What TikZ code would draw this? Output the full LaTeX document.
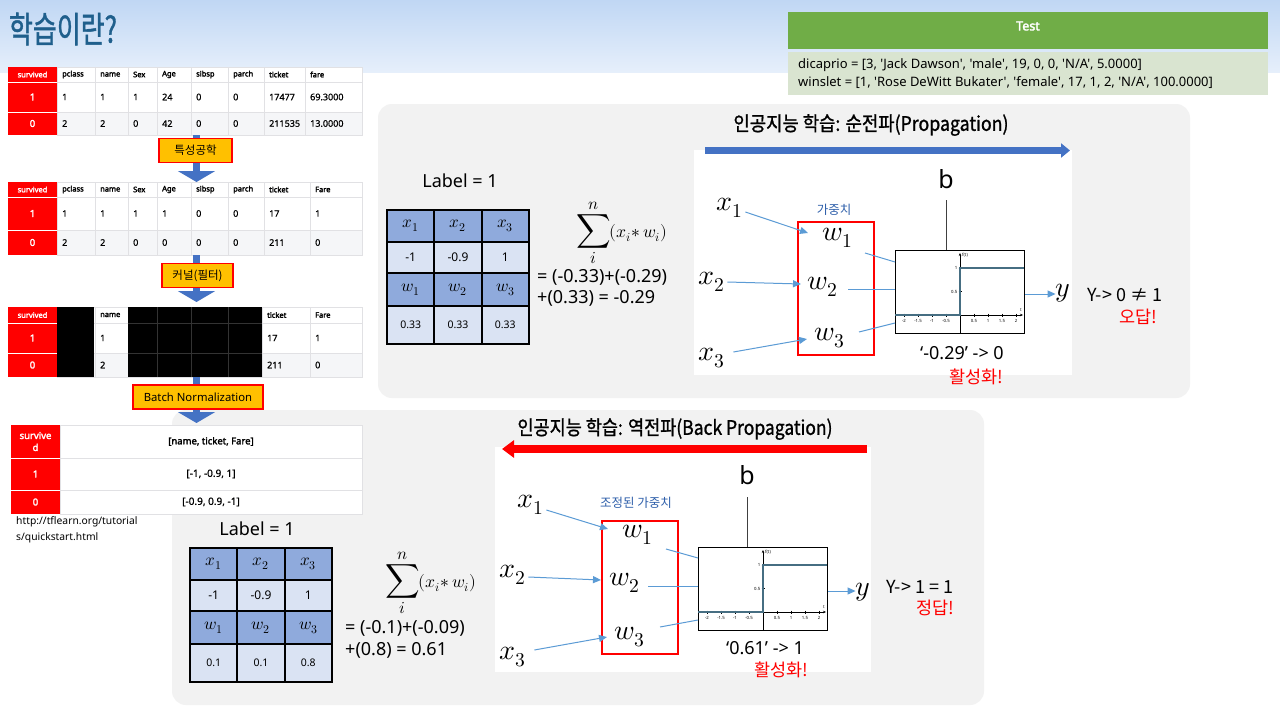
\documentclass[tikz,border=0pt]{standalone}
\usepackage{fontspec}
\usepackage{unicode-math}
\usepackage{graphicx}
\setmainfont{Noto Sans}[AutoFakeBold=2.5]
\setmathfont{Latin Modern Math}
\newfontfamily\kr{Noto Sans CJK KR}
\newfontfamily\krb{Noto Sans CJK KR}[FakeBold=1.2]
\newfontfamily\plainf{Noto Sans}
\newfontfamily\medf{Noto Sans}[FakeBold=0.7]
\usetikzlibrary{arrows.meta}
\definecolor{hdrblue}{RGB}{31,95,140}
\definecolor{redc}{RGB}{255,0,0}
\definecolor{ybox}{RGB}{255,192,0}
\definecolor{barblue}{RGB}{68,114,196}
\definecolor{panel}{RGB}{242,242,242}
\definecolor{cdark}{RGB}{143,170,220}
\definecolor{clight}{RGB}{218,227,243}
\definecolor{tgreen}{RGB}{112,173,71}
\definecolor{tbody}{RGB}{217,228,208}
\definecolor{arrblue}{RGB}{91,155,213}
\definecolor{wtxt}{RGB}{46,95,170}
\definecolor{stepc}{RGB}{70,110,130}
\definecolor{gridc}{RGB}{225,225,228}
\definecolor{rowg}{RGB}{245,246,248}
\definecolor{bgtop}{RGB}{192,215,244}
\definecolor{bgbot}{RGB}{230,239,251}
\tikzset{
  hd/.style={font=\fontsize{7.5}{9}\selectfont\bfseries, inner sep=0pt, anchor=west},
  hdw/.style={font=\fontsize{7.5}{9}\selectfont\bfseries, text=white, inner sep=0pt},
  cv/.style={font=\medf\fontsize{9}{10}\selectfont, inner sep=0pt, anchor=west},
  cvc/.style={font=\medf\fontsize{10}{11}\selectfont, inner sep=0pt},
  cvw/.style={font=\fontsize{9.5}{10}\selectfont\bfseries, text=white, inner sep=0pt},
  gl/.style={draw=gridc, line width=0.8pt},
  ybx/.style={draw=redc, fill=ybox, line width=1.2pt, inner sep=0pt, minimum height=24pt},
  darr/.style={line width=7pt, barblue, -{Triangle[width=37pt,length=11pt]}},
  mcell/.style={font=\fontsize{17}{18}\selectfont, inner sep=0pt},
  vcell/.style={font=\fontsize{12}{13}\selectfont, inner sep=0pt},
  wcell/.style={font=\fontsize{10.5}{12}\selectfont, inner sep=0pt},
  mth/.style={font=\fontsize{28}{30}\selectfont, inner sep=0pt},
  txt/.style={font=\fontsize{18}{20}\selectfont, inner sep=0pt},
  krt/.style={font=\kr\fontsize{17.5}{19}\selectfont, inner sep=0pt},
  redt/.style={krt, text=redc},
  wlab/.style={font=\kr\fontsize{12.5}{14}\selectfont, text=wtxt, inner sep=0pt},
  redbox/.style={draw=redc, line width=2pt, minimum width=76pt, minimum height=133pt, anchor=north west, inner sep=0pt},
  plotbox/.style={draw=black, line width=1pt, minimum width=129pt, minimum height=83pt, anchor=north west, inner sep=0pt, fill=white},
  inarr/.style={arrblue, line width=1pt, -{Triangle[length=8pt,width=7pt]}},
  wline/.style={arrblue, line width=1pt},
  bline/.style={black!75, line width=0.9pt},
  tck/.style={font=\plainf\fontsize{4.3}{5}\selectfont, inner sep=0pt},
  ttlk/.style={font=\krb\fontsize{20}{22}\selectfont, inner sep=0pt},
  sumn/.style={anchor=west, inner sep=0pt},
}
% weight table: #1 prefix, #2 x, #3 y, #4-#6 weights
\newcommand\wtab[6]{%
 \begin{scope}[shift={(#2,#3)}]
  \fill[cdark] (0,0) rectangle (142,32);
  \fill[clight] (0,32) rectangle (142,63);
  \fill[cdark] (0,63) rectangle (142,96);
  \fill[clight] (0,96) rectangle (142,134);
  \draw[line width=1.2pt] (0,0) rectangle (142,134);
  \foreach \yy in {32,63,96} \draw[line width=1.2pt] (0,\yy) -- (142,\yy);
  \foreach \xx in {47,95} \draw[line width=1.2pt] (\xx,0) -- (\xx,134);
  \foreach \c in {1,2,3} {
    \node[mcell] (#1x\c) at ({\c*47.33-23.67},16) {$x_{\c}$};
    \node[mcell] (#1w\c) at ({\c*47.33-23.67},79.5) {$w_{\c}$};
  }
  \node[vcell] (#1v1) at (23.67,47.5) {-1};
  \node[vcell] (#1v2) at (71,47.5) {-0.9};
  \node[vcell] (#1v3) at (118.33,47.5) {1};
  \node[wcell] (#1k1) at (23.67,115) {#4};
  \node[wcell] (#1k2) at (71,115) {#5};
  \node[wcell] (#1k3) at (118.33,115) {#6};
 \end{scope}}
% step plot: #1 name, #2 x, #3 y
\newcommand\stepplot[3]{%
 \node[plotbox] (#1) at (#2,#3) {};
 \begin{scope}[shift={(#2,#3)}]
  \draw[line width=0.4pt,-{Stealth[length=3pt,width=2.5pt]}] (1,65) -- (128,65);
  \draw[line width=0.4pt,-{Stealth[length=3pt,width=2.5pt]}] (65,83) -- (65,3);
  \foreach \k/\lab [count=\n] in {-2/-2,-1.5/-1.5,-1/-1,-0.5/-0.5,0.5/0.5,1/1,1.5/1.5,2/2} {
    \draw[line width=0.3pt] ({65+28*(\k)},63.5) -- ({65+28*(\k)},66.5);
    \node[tck] (#1t\n) at ({65+28*(\k)},71) {\lab};
  }
  \draw[line width=0.3pt] (63.5,18) -- (66.5,18);
  \draw[line width=0.3pt] (63.5,41.5) -- (66.5,41.5);
  \node[tck, anchor=east] (#1ya) at (62.5,18) {1};
  \node[tck, anchor=east] (#1yb) at (62.5,41.5) {0.5};
  \node[tck, anchor=west] (#1ft) at (67,5) {f(t)};
  \node[tck] (#1tt) at (126,60) {t};
  \draw[stepc, line width=1.4pt] (0,65) -- (65,65) -- (65,18) -- (129,18);
 \end{scope}}
\newcommand\sumexpr{{\fontsize{24}{24}\selectfont$\displaystyle\sum_{i}^{n}$}\kern-1pt{\fontsize{17.5}{18}\selectfont$(x_i{*}\,w_i)$}}
\begin{document}
\begin{tikzpicture}[x=1pt,y=-1pt]
\useasboundingbox (0,0) rectangle (1280,720);
\fill[white] (0,0) rectangle (1280,720);
\shade[top color=bgtop,bottom color=bgbot] (0,0) rectangle (1280,72);
\node[font=\krb\fontsize{36}{38}\selectfont, text=hdrblue, inner sep=0pt] (ttl) at (63,29) {\resizebox{108pt}{\height}{학습이란?}};

% grey panels
\fill[panel, rounded corners=14pt] (378,104) rectangle (1190,398);
\fill[panel, rounded corners=14pt] (172,410) rectangle (984,705);

% ---------- Table 1
\fill[white] (8,67) rectangle (362,112);
\fill[rowg] (8,112) rectangle (362,135);
\fill[redc] (8,67) rectangle (57,135);
\foreach \yy in {82,112} \draw[gl] (57,\yy) -- (362,\yy);
\foreach \yy in {82,112} \draw[white, line width=0.8pt] (8,\yy) -- (57,\yy);
\foreach \xx in {95,128,157,191,228,264,305} \draw[gl] (\xx,67) -- (\xx,135);
\draw[gl] (57,67) rectangle (362,135);
\node[hdw] (t1h0) at (32.5,74.5) {survived};
\foreach \xx/\s [count=\i] in {57/pclass,95/name,128/Sex,157/Age,191/sibsp,228/parch,264/ticket,305/fare}
  \node[hd] (t1h\i) at (\xx+5,74.5) {\s};
\node[cvw] (t1a0) at (32.5,97) {1};
\foreach \xx/\s [count=\i] in {57/1,95/1,128/1,157/24,191/0,228/0,264/17477,305/69.3000}
  \node[cv] (t1a\i) at (\xx+5,97) {\s};
\node[cvw] (t1b0) at (32.5,123.5) {0};
\foreach \xx/\s [count=\i] in {57/2,95/2,128/0,157/42,191/0,228/0,264/211535,305/13.0000}
  \node[cv] (t1b\i) at (\xx+5,123.5) {\s};

% ---------- Table 2
\fill[white] (8,182) rectangle (362,230);
\fill[rowg] (8,230) rectangle (362,255);
\fill[redc] (8,182) rectangle (57,255);
\foreach \yy in {197,230} \draw[gl] (57,\yy) -- (362,\yy);
\foreach \yy in {197,230} \draw[white, line width=0.8pt] (8,\yy) -- (57,\yy);
\foreach \xx in {95,128,157,191,228,264,310} \draw[gl] (\xx,182) -- (\xx,255);
\draw[gl] (57,182) rectangle (362,255);
\node[hdw] (t2h0) at (32.5,189.5) {survived};
\foreach \xx/\s [count=\i] in {57/pclass,95/name,128/Sex,157/Age,191/sibsp,228/parch,264/ticket,310/Fare}
  \node[hd] (t2h\i) at (\xx+5,189.5) {\s};
\node[cvw] (t2a0) at (32.5,213.5) {1};
\foreach \xx/\s [count=\i] in {57/1,95/1,128/1,157/1,191/0,228/0,264/17,310/1}
  \node[cv] (t2a\i) at (\xx+5,213.5) {\s};
\node[cvw] (t2b0) at (32.5,242.5) {0};
\foreach \xx/\s [count=\i] in {57/2,95/2,128/0,157/0,191/0,228/0,264/211,310/0}
  \node[cv] (t2b\i) at (\xx+5,242.5) {\s};

% ---------- Table 3
\fill[white] (8,307) rectangle (362,353);
\fill[rowg] (8,353) rectangle (362,377);
\fill[redc] (8,307) rectangle (57,377);
\foreach \yy in {323,353} \draw[gl] (57,\yy) -- (362,\yy);
\foreach \yy in {323,353} \draw[white, line width=0.8pt] (8,\yy) -- (57,\yy);
\foreach \xx in {95,128,262,310} \draw[gl] (\xx,307) -- (\xx,377);
\draw[gl] (57,307) rectangle (362,377);
\fill[black] (57,307) rectangle (94,377);
\fill[black] (128,307) rectangle (262,377);
\foreach \xx in {157,191,228} \draw[black!80, line width=0.6pt] (\xx,307) -- (\xx,377);
\foreach \yy in {323,353} \draw[black!80, line width=0.6pt] (128,\yy) -- (262,\yy);
\node[hdw] (t3h0) at (32.5,315) {survived};
\node[hd] (t3h1) at (100,315) {name};
\node[hd] (t3h2) at (267,315) {ticket};
\node[hd] (t3h3) at (315,315) {Fare};
\node[cvw] (t3a0) at (32.5,338) {1};
\node[cv] (t3a1) at (100,338) {1};
\node[cv] (t3a2) at (267,338) {17};
\node[cv] (t3a3) at (315,338) {1};
\node[cvw] (t3b0) at (32.5,365) {0};
\node[cv] (t3b1) at (100,365) {2};
\node[cv] (t3b2) at (267,365) {211};
\node[cv] (t3b3) at (315,365) {0};

% ---------- Table 4
\fill[white] (11,425) rectangle (362,514);
\fill[redc] (11,425) rectangle (60,514);
\foreach \yy in {458,490} \draw[gl] (60,\yy) -- (362,\yy);
\foreach \yy in {458,490} \draw[white, line width=0.8pt] (11,\yy) -- (60,\yy);
\draw[gl] (60,425) rectangle (362,514);
\node[cvw, align=center, font=\fontsize{9.5}{12}\selectfont\bfseries] (t4h0) at (35.5,441.5) {survive\\d};
\node[font=\fontsize{9.5}{11}\selectfont\bfseries, inner sep=0pt] (t4h1) at (211,441.5) {[name, ticket, Fare]};
\node[cvw] (t4a0) at (35.5,474) {1};
\node[cvc] (t4a1) at (211,474) {[-1, -0.9, 1]};
\node[cvw] (t4b0) at (35.5,502) {0};
\node[cvc] (t4b1) at (211,502) {[-0.9, 0.9, -1]};
\node[font=\fontsize{10.3}{16}\selectfont, align=left, anchor=north west, inner sep=0pt] (url) at (16,516) {http://tflearn.org/tutorial\\s/quickstart.html};

% ---------- left arrows and boxes
\coordinate (T1b) at (196.5,135);
\coordinate (T2t) at (196.5,182);
\coordinate (T2b) at (196.5,255);
\coordinate (T3t) at (196.5,302);
\coordinate (T3b) at (196.5,377);
\coordinate (T4t) at (196.5,423);
\draw[darr] (T1b) -- (T2t);
\draw[darr] (T2b) -- (T3t);
\draw[darr] (T3b) -- (T4t);
\node[ybx, minimum width=73pt, font=\kr\fontsize{11.5}{13}\selectfont] (fe) at (195.5,150.5) {특성공학};
\node[ybx, minimum width=71pt, font=\kr\fontsize{11.5}{13}\selectfont] (kn) at (197.5,275.5) {커널(필터)};
\node[ybx, minimum width=130pt, font=\fontsize{11.3}{13}\selectfont] (bn) at (198,397) {Batch Normalization};

% ---------- Test box
\fill[tgreen] (788,12) rectangle (1268,49);
\fill[tbody] (788,52) rectangle (1268,95);
\node[font=\fontsize{12.5}{14}\selectfont\bfseries, text=white, inner sep=0pt] (testh) at (1028,26) {Test};
\node[font=\plainf\fontsize{13}{18}\selectfont, align=left, anchor=west, inner sep=0pt] (testb) at (798,73.5) {dicaprio = [3, 'Jack Dawson', 'male', 19, 0, 0, 'N/A', 5.0000]\\winslet = [1, 'Rose DeWitt Bukater', 'female', 17, 1, 2, 'N/A', 100.0000]};

% ================= upper panel
\fill[white] (694,150) rectangle (1072,375);
\node[ttlk] (utitle) at (871,125) {\resizebox{275pt}{\height}{인공지능 학습: 순전파(Propagation)}};
\coordinate (uas) at (705,150.5);
\coordinate (uae) at (1070,150.5);
\draw[line width=7pt, barblue, -{Triangle[width=14pt,length=9pt]}] (uas) -- (uae);
\node[font=\fontsize{18}{20}\selectfont, inner sep=0pt] (ulabel) at (460,181) {Label = 1};
\wtab{u}{387}{210}{0.33}{0.33}{0.33}
\node[sumn] (usum) at (576,233) {\sumexpr};
\node[txt, anchor=west] (ueq1) at (537,277) {= (-0.33)+(-0.29)};
\node[txt, anchor=west] (ueq2) at (537,298) {+(0.33) = -0.29};

\node[mth] (ux1) at (730,208) {$x_1$};
\node[mth] (ux2) at (712,282) {$x_2$};
\node[mth] (ux3) at (712,358) {$x_3$};
\node[redbox] (ubox) at (797,221) {};
\node[wlab] (uwl) at (834,210) {가중치};
\node[mth] (uw1) at (838,238) {$w_1$};
\node[mth] (uw2) at (823,287) {$w_2$};
\node[mth] (uw3) at (830,338) {$w_3$};
\stepplot{up}{895}{250}
\coordinate (ui1) at (808,233);
\coordinate (ui2) at (801,284);
\coordinate (ui3) at (807,339);
\draw[inarr] (ux1.east) ++(2,4) -- (ui1);
\draw[inarr] (ux2.east) ++(2,0) -- (ui2);
\draw[inarr] (ux3.east) ++(8,-6) -- (ui3);
\coordinate (uo1) at (865,253);
\coordinate (uo2) at (848,289);
\coordinate (uo3) at (859,332);
\draw[wline] (uo1) -- (up.west |- 0,262);
\draw[wline] (uo2) -- (up.west |- 0,289);
\draw[wline] (uo3) -- (up.west |- 0,323);
\node[font=\fontsize{25}{27}\selectfont, inner sep=0pt] (ub) at (946,179) {b};
\draw[bline] (ub) ++(0,21) -- (ub |- up.north);
\node[mth] (uy) at (1063,293) {$y$};
\draw[inarr] (up.east |- 0,294) -- (uy.west |- 0,294);
\node[krt, font=\kr\fontsize{18}{20}\selectfont] (uyres) at (1125,295) {Y-> 0 ≠ 1};
\node[redt] (uwrong) at (1138,317) {오답!};
\node[txt] (uact) at (962,353) {‘-0.29’ -> 0};
\node[redt] (uhw) at (976,377) {활성화!};

% ================= lower panel
\fill[white] (495,447) rectangle (871,672);
\node[ttlk] (ltitle) at (675,429) {\resizebox{315pt}{\height}{인공지능 학습: 역전파(Back Propagation)}};
\coordinate (las) at (867,449);
\coordinate (lae) at (502,449);
\draw[line width=8pt, redc, -{Triangle[width=17pt,length=12pt]}] (las) -- (lae);
\node[font=\fontsize{18}{20}\selectfont, inner sep=0pt] (llabel) at (257,529) {Label = 1};
\wtab{l}{190}{548}{0.1}{0.1}{0.8}
\node[sumn] (lsum) at (385,583) {\sumexpr};
\node[txt, anchor=west] (leq1) at (345,628) {= (-0.1)+(-0.09)};
\node[txt, anchor=west] (leq2) at (345,650) {+(0.8) = 0.61};

\node[mth] (lx1) at (531,505) {$x_1$};
\node[mth] (lx2) at (513,575) {$x_2$};
\node[mth] (lx3) at (513,657) {$x_3$};
\node[redbox] (lbox) at (601,520) {};
\node[wlab] (lwl) at (636,503) {조정된 가중치};
\node[mth] (lw1) at (638,535) {$w_1$};
\node[mth] (lw2) at (625,583) {$w_2$};
\node[mth] (lw3) at (630,637) {$w_3$};
\stepplot{lp}{698}{547}
\coordinate (li1) at (608,529);
\coordinate (li2) at (601,580);
\coordinate (li3) at (607,637);
\draw[inarr] (lx1.east) ++(2,5) -- (li1);
\draw[inarr] (lx2.east) ++(2,2) -- (li2);
\draw[inarr] (lx3.east) ++(8,-7) -- (li3);
\coordinate (lo1) at (666,549);
\coordinate (lo2) at (648,586);
\coordinate (lo3) at (660,627);
\draw[wline] (lo1) -- (lp.west |- 0,558);
\draw[wline] (lo2) -- (lp.west |- 0,586);
\draw[wline] (lo3) -- (lp.west |- 0,620);
\node[font=\fontsize{25}{27}\selectfont, inner sep=0pt] (lb) at (747,475) {b};
\draw[bline] (lb) ++(0,22) -- (lb |- lp.north);
\node[mth] (ly) at (863,592) {$y$};
\draw[inarr] (lp.east |- 0,591) -- (ly.west |- 0,591);
\node[krt, font=\kr\fontsize{18}{20}\selectfont] (lyres) at (920,587) {Y-> 1 = 1};
\node[redt] (lright) at (935,608) {정답!};
\node[txt] (lact) at (765,648) {‘0.61’ -> 1};
\node[redt] (lhw) at (781,670) {활성화!};
\end{tikzpicture}
\end{document}
